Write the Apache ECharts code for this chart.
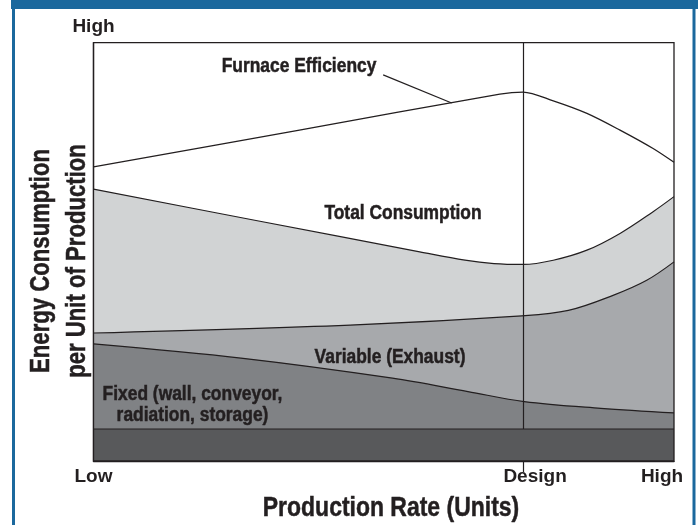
<!DOCTYPE html>
<html>
<head>
<meta charset="utf-8">
<script src="https://cdn.jsdelivr.net/npm/echarts@6/dist/echarts.min.js"></script>
<style>
  html, body { margin: 0; padding: 0; background: #fff; }
  #main { width: 698px; height: 525px; }
</style>
</head>
<body>
<div id="main"></div>
<script>
// production rate runs 0 (Low) .. 100 (High), design point at 74
const xTicks = [0, 74, 100];
const xTickNames = ['Low', 'Design', 'High'];

// energy per unit, 0..100 (relative)
const totalX = [0, 28, 56.2, 64, 69, 74, 79.2, 85, 90.7, 96.4, 100];
const totalY = [65.0, 57.5, 50.0, 48.0, 47.2, 47.0, 48.0, 50.4, 54.4, 59.6, 63.2];
const variableX = [0, 44.2, 73.8, 81.8, 89.5, 95.3, 100];
const variableY = [30.6, 32.5, 34.7, 36.0, 39.6, 43.2, 47.6];
const fixedX = [0, 25.4, 51.5, 64.5, 74.2, 87.4, 100];
const fixedY = [28.0, 24.6, 19.8, 16.6, 14.2, 12.6, 11.5];
const baseX = [0, 100];
const baseY = [7.65, 7.65];
const furnaceX = [0, 35, 70, 74, 79.2, 85, 90.7, 96.4, 100];
const furnaceY = [70.3, 79.0, 87.7, 88.2, 86.1, 83.1, 79.1, 74.7, 71.4];

const FONT = '"Liberation Sans", Arial, sans-serif';
const INK = '#231f20';
const BLUE = '#1b689d';

function pairs(xs, ys) {
  return xs.map(function (x, i) { return [x, ys[i]]; });
}

function band(name, xs, ys, fill, z) {
  return {
    name: name,
    type: 'line',
    data: pairs(xs, ys),
    smooth: 0.35,
    symbol: 'none',
    z: z,
    lineStyle: { color: INK, width: 1.2 },
    areaStyle: { color: fill, opacity: 1 },
    silent: true
  };
}

// condensed-looking label: bold text squeezed horizontally
function label(text, x, y, size, squeeze, extra) {
  const el = {
    type: 'text', x: x, y: y, z: 50, scaleX: squeeze, silent: true,
    style: {
      text: text, fill: INK, font: 'bold ' + size + 'px ' + FONT,
      stroke: INK, lineWidth: 0.5,
      textAlign: 'center', textVerticalAlign: 'middle'
    }
  };
  if (extra) {
    if (extra.rotation) el.rotation = extra.rotation;
    if (extra.lineHeight) el.style.lineHeight = extra.lineHeight;
  }
  return el;
}

var myChart = echarts.init(document.getElementById('main'));

var option = {
  animation: false,
  backgroundColor: '#fff',
  grid: {
    left: 93.5,
    top: 42.7,
    right: 24,
    bottom: 64,
    outerBoundsMode: 'none',
    show: true,
    borderColor: INK,
    borderWidth: 1.3,
    z: 10
  },
  xAxis: {
    type: 'value',
    min: 0,
    max: 100,
    splitLine: { show: false },
    axisLine: { show: true, lineStyle: { color: INK, width: 1.3 } },
    axisTick: {
      show: true,
      customValues: [74],
      length: 11,
      lineStyle: { color: INK, width: 1.2 }
    },
    axisLabel: {
      customValues: xTicks,
      margin: 6,
      color: INK,
      fontFamily: FONT,
      fontWeight: 'bold',
      fontSize: 19,
      formatter: function (v) {
        const name = xTickNames[xTicks.indexOf(v)];
        if (v === 74) return '{d|' + name + '}';
        if (v === 100) return '{h|' + name + '}';
        return name;
      },
      rich: {
        d: { fontFamily: FONT, fontWeight: 'bold', fontSize: 19, color: INK, padding: [0, 0, 0, 24] },
        h: { fontFamily: FONT, fontWeight: 'bold', fontSize: 19, color: INK, padding: [0, 24, 0, 0] }
      }
    }
  },
  yAxis: {
    type: 'value',
    min: 0,
    max: 100,
    splitLine: { show: false },
    axisLine: { show: true, lineStyle: { color: INK, width: 1.3 } },
    axisTick: { show: false },
    axisLabel: { show: false },
    name: 'High',
    nameLocation: 'end',
    nameGap: 6,
    nameTextStyle: {
      color: INK,
      fontFamily: FONT,
      fontWeight: 'bold',
      fontSize: 19,
      align: 'center'
    }
  },
  series: [
    band('Total Consumption', totalX, totalY, '#d1d3d4', 2),
    band('Variable (Exhaust)', variableX, variableY, '#a7a9ac', 3),
    band('Fixed', fixedX, fixedY, '#808285', 4),
    Object.assign(band('Base', baseX, baseY, '#58595b', 5), { smooth: false }),
    {
      name: 'Furnace Efficiency',
      type: 'line',
      data: pairs(furnaceX, furnaceY),
      smooth: 0.3,
      symbol: 'none',
      z: 6,
      silent: true,
      lineStyle: { color: INK, width: 1.3 },
      markLine: {
        silent: true,
        symbol: 'none',
        label: { show: false },
        lineStyle: { color: INK, width: 1.2, type: 'solid' },
        data: [
          { xAxis: 74 },
          [{ coord: [49.9, 92.3] }, { coord: [61.7, 85.6] }]
        ]
      }
    }
  ],
  graphic: [
    { type: 'rect', shape: { x: 11, y: 0, width: 687, height: 9 }, style: { fill: BLUE }, z: 100 },
    { type: 'rect', shape: { x: 12, y: 0, width: 3, height: 525 }, style: { fill: BLUE }, z: 100 },
    { type: 'rect', shape: { x: 692.5, y: 0, width: 3, height: 525 }, style: { fill: BLUE }, z: 100 },
    label('Production Rate (Units)', 391, 508, 28, 0.82),
    label('Energy Consumption\nper Unit of Production', 60, 261, 27, 0.82,
      { rotation: Math.PI / 2, lineHeight: 36 }),
    label('Furnace Efficiency', 299, 66, 20, 0.87),
    label('Total Consumption', 403, 213, 20, 0.87),
    label('Variable (Exhaust)', 390, 357, 20, 0.87),
    label('Fixed (wall, conveyor,\nradiation, storage)', 192.5, 405, 20, 0.87, { lineHeight: 21 })
  ]
};

myChart.setOption(option);
</script>
</body>
</html>
